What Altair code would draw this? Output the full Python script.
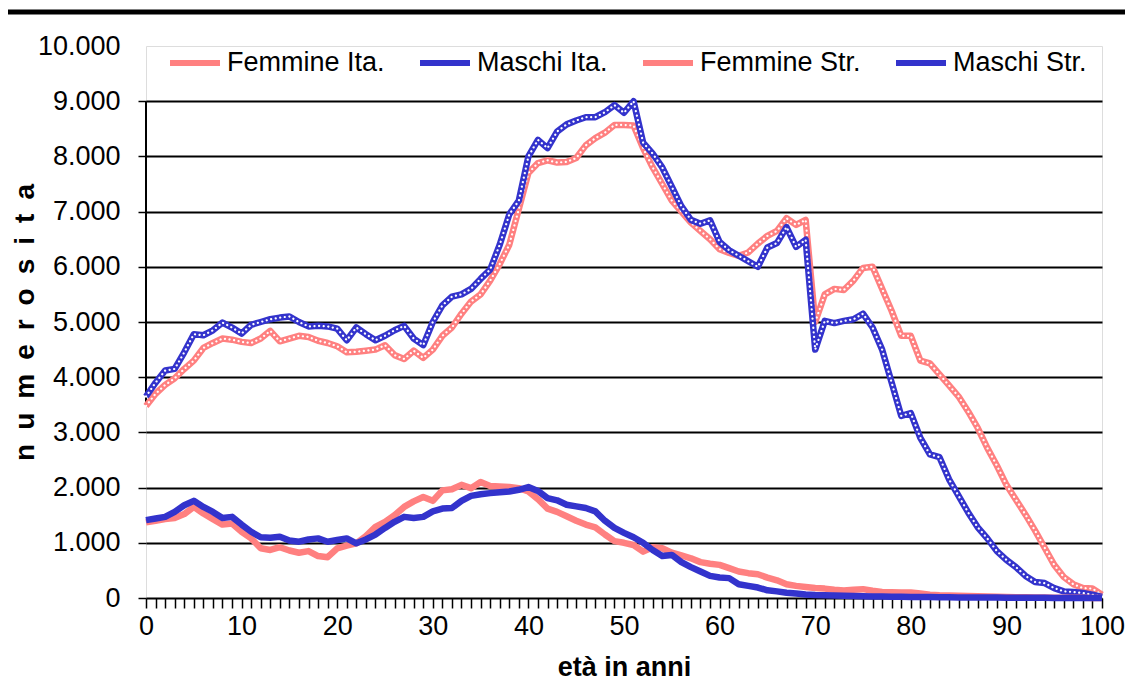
import altair as alt
import pandas as pd

ages = list(range(0, 101))

femmine_ita = [3480,3700,3860,3980,4150,4300,4530,4620,4700,4680,
               4640,4620,4700,4840,4650,4700,4750,4730,4660,4620,
               4560,4450,4460,4480,4500,4580,4400,4330,4480,4350,
               4500,4750,4900,5150,5370,5500,5750,6050,6400,7050,
               7700,7880,7930,7890,7900,7970,8200,8330,8430,8570,
               8570,8560,8150,7800,7500,7200,7000,6800,6650,6500,
               6320,6250,6200,6260,6420,6560,6650,6880,6760,6850,
               5000,5500,5600,5580,5750,5980,6000,5600,5200,4750,
               4750,4300,4250,4050,3850,3650,3380,3080,2720,2400,
               2050,1780,1510,1220,910,600,380,250,180,170,
               60]

maschi_ita = [3650,3900,4120,4150,4450,4780,4760,4850,4990,4900,
              4790,4950,5000,5050,5080,5100,5000,4920,4930,4920,
              4880,4670,4900,4780,4670,4750,4850,4930,4700,4580,
              5000,5300,5460,5500,5600,5780,5950,6400,6950,7200,
              8000,8300,8150,8450,8580,8650,8710,8710,8800,8930,
              8790,9000,8250,8050,7800,7450,7100,6850,6780,6840,
              6450,6300,6200,6100,6000,6350,6430,6720,6360,6490,
              4500,5020,4980,5020,5050,5150,4900,4500,3900,3300,
              3350,2900,2600,2550,2150,1850,1550,1280,1080,850,
              690,560,400,290,270,180,120,110,90,60,
              20]

femmine_str = [1370,1400,1430,1450,1520,1650,1530,1430,1330,1350,
               1200,1080,900,870,920,860,820,850,760,740,
               900,950,990,1120,1290,1380,1500,1650,1750,1830,
               1760,1950,1970,2050,1990,2100,2030,2020,2010,1990,
               1930,1790,1620,1560,1480,1400,1330,1280,1150,1030,
               1000,960,840,920,900,820,770,720,650,620,
               600,540,480,450,430,370,320,250,220,200,
               180,170,150,135,150,160,130,110,105,100,
               100,80,60,50,45,40,35,30,25,22,
               20,15,12,10,8,6,5,4,3,2,
               0]

maschi_str = [1410,1440,1470,1560,1680,1760,1650,1560,1450,1470,
              1330,1200,1100,1090,1110,1040,1020,1060,1080,1020,
              1050,1080,990,1060,1150,1270,1380,1470,1450,1470,
              1570,1620,1630,1760,1850,1880,1900,1915,1930,1960,
              2010,1940,1810,1770,1690,1660,1630,1570,1400,1270,
              1180,1100,1000,870,760,780,650,560,480,400,
              370,360,250,220,190,140,120,95,80,65,
              55,50,45,40,35,30,28,26,24,22,
              20,18,16,14,12,11,10,9,8,7,
              6,5,4,3,3,2,2,1,1,1,
              0]

series_names = ["Femmine Ita.", "Maschi Ita.", "Femmine Str.", "Maschi Str."]
series_colors = ["#FF8080", "#3333CC", "#FF8080", "#3333CC"]
y_ticks = list(range(0, 10001, 1000))

rows = []
for name, vals in zip(series_names, [femmine_ita, maschi_ita, femmine_str, maschi_str]):
    for a, v in zip(ages, vals):
        rows.append({"eta": a, "valore": v, "serie": name, "top": 9000})
df = pd.DataFrame(rows)

FONT = "Liberation Sans"
W, H = 956, 552
PAD_L, PAD_R = 138, 23

x_enc = alt.X("eta:Q", scale=alt.Scale(domain=[0, 100], nice=False, zero=False),
              axis=alt.Axis(values=ages, tickCount=101,
                            labelExpr="datum.value % 10 == 0 ? datum.value : ''",
                            labelOverlap=False, labelFlush=False, tickSize=10, tickColor="#000", tickWidth=1.5,
                            domainColor="#000", domainWidth=2, grid=False,
                            labelFont=FONT, labelFontSize=27, labelColor="#000",
                            labelPadding=5, title="età in anni", titleFont=FONT,
                            titleFontSize=27, titleFontWeight="bold", titleColor="#000",
                            titleBaseline="alphabetic", titleY=77))
y_enc = alt.Y("valore:Q", scale=alt.Scale(domain=[0, 10000], nice=False),
              axis=alt.Axis(values=y_ticks, domain=False,
                            labelExpr="replace(format(datum.value, ',d'), ',', '.')",
                            grid=True, gridColor="#000", gridWidth=2,
                            gridOpacity={"condition": {"test": "datum.value >= 10000 || datum.value <= 0", "value": 0}, "value": 1},
                            tickOpacity={"condition": {"test": "datum.value >= 10000", "value": 0}, "value": 1},
                            tickSize=8, tickColor="#000", tickWidth=1.5, labelOverlap=False,
                            labelFont=FONT, labelFontSize=27, labelColor="#000", labelPadding=18,
                            title="n\u2002u\u2002m\u2002e\u2002r\u2002o\u2002s\u2002i\u2002t\u2002a",
                            titleFont=FONT, titleFontSize=28, titleFontWeight="bold",
                            titleColor="#000", titleX=-121, titleY=H / 2, titleAngle=270,
                            titleAlign="center", titleBaseline="middle"))

color_enc = alt.Color("serie:N", scale=alt.Scale(domain=series_names, range=series_colors),
                      legend=alt.Legend(title=None, orient="none", direction="horizontal",
                                        legendX=21, legendY=-11, columns=4,
                                        symbolType="stroke", symbolSize=2500, symbolStrokeWidth=6,
                                        labelFont=FONT, labelFontSize=27, labelColor="#000",
                                        labelLimit=400, labelOffset=4, columnPadding=23,
                                        symbolOpacity=1))

base = alt.Chart(df).encode(x=x_enc, y=y_enc)

layers = []
# Y axis line (only up to 9000)
layers.append(base.transform_filter(alt.datum.eta == 0).transform_filter(
    alt.datum.serie == series_names[0]).mark_rule(color="#000", strokeWidth=2).encode(y2="top:Q"))

for name, dotted in zip(series_names, [True, True, False, False]):
    sub = base.transform_filter(alt.datum.serie == name)
    if dotted:
        layers.append(sub.mark_line(strokeWidth=6.5, strokeJoin="round").encode(color=color_enc))
        layers.append(sub.mark_line(strokeWidth=2.2, color="white", strokeDash=[0.1, 4.5],
                                    strokeCap="round").encode(detail="serie:N"))
    else:
        layers.append(sub.mark_line(strokeWidth=6.5, strokeJoin="round").encode(color=color_enc))

# top decorative bar
layers.append(alt.Chart(pd.DataFrame({"k": [0]})).mark_rule(color="#000", strokeWidth=5).encode(
    x=alt.value(-PAD_L), x2=alt.value(W + PAD_R), y=alt.value(-34)))

chart = alt.layer(*layers).properties(
    width=W, height=H,
    autosize=alt.AutoSizeParams(type="none"),
    padding={"left": PAD_L, "top": 38, "right": PAD_R, "bottom": 85},
).configure_view(stroke=None).configure(background="white")

chart.save("out.html", embed_options={"renderer": "svg", "actions": False})
